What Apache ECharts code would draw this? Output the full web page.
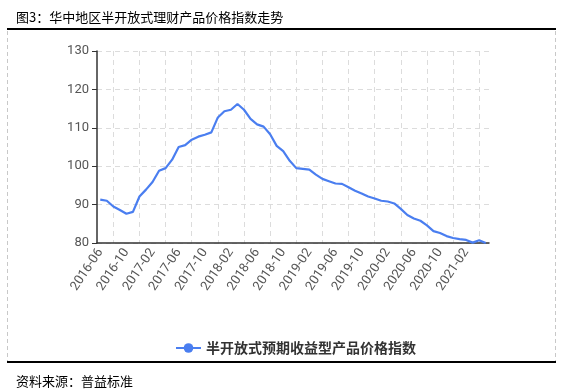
<!DOCTYPE html>
<html>
<head>
<meta charset="utf-8">
<script src="https://cdn.jsdelivr.net/npm/echarts@6/dist/echarts.min.js"></script>
<style>
html,body{margin:0;padding:0;background:#fff;}
#chart{width:564px;height:391px;}
</style>
</head>
<body>
<div id="chart"></div>
<script>
var titleText = '图3：华中地区半开放式理财产品价格指数走势';
var sourceText = '资料来源：普益标准';
var seriesName = '半开放式预期收益型产品价格指数';

var months = [
  '2016-06','2016-07','2016-08','2016-09','2016-10','2016-11','2016-12',
  '2017-01','2017-02','2017-03','2017-04','2017-05','2017-06','2017-07','2017-08','2017-09','2017-10','2017-11','2017-12',
  '2018-01','2018-02','2018-03','2018-04','2018-05','2018-06','2018-07','2018-08','2018-09','2018-10','2018-11','2018-12',
  '2019-01','2019-02','2019-03','2019-04','2019-05','2019-06','2019-07','2019-08','2019-09','2019-10','2019-11','2019-12',
  '2020-01','2020-02','2020-03','2020-04','2020-05','2020-06','2020-07','2020-08','2020-09','2020-10','2020-11','2020-12',
  '2021-01','2021-02','2021-03','2021-04','2021-05'
];

var indexValues = [
  91.3, 91.0, 89.5, 88.6, 87.6, 88.1, 92.1,
  93.9, 95.9, 98.8, 99.5, 101.7, 105.0, 105.5, 106.9, 107.7, 108.2, 108.8, 112.7,
  114.3, 114.7, 116.2, 114.7, 112.3, 110.9, 110.3, 108.3, 105.3, 103.9, 101.4, 99.5,
  99.3, 99.1, 97.8, 96.7, 96.1, 95.5, 95.4, 94.5, 93.6, 92.9, 92.1, 91.6,
  91.0, 90.8, 90.3, 88.9, 87.3, 86.4, 85.8, 84.6, 83.1, 82.6, 81.8, 81.3,
  81.0, 80.8, 80.1, 80.7, 80.0
];

var yMin = 80, yMax = 130, yStep = 10;

// helper axis used only for the vertical dashed grid lines (half-month resolution)
var halfSteps = [];
for (var k = 0; k <= months.length * 2; k++) { halfSteps.push(k); }

var chart = echarts.init(document.getElementById('chart'), null, {renderer: 'canvas'});
var cjk = '"Noto Sans CJK SC", "Microsoft YaHei", sans-serif';

chart.setOption({
  animation: false,
  backgroundColor: '#fff',
  title: [
    {text: titleText, left: 11, top: 6, textStyle: {fontFamily: cjk, fontSize: 13, fontWeight: 'normal', color: '#000'}},
    {text: sourceText, left: 11, top: 370, textStyle: {fontFamily: cjk, fontSize: 13, fontWeight: 'normal', color: '#000'}}
  ],
  graphic: [
    {type: 'line', shape: {x1: 7, y1: 29, x2: 556, y2: 29}, style: {stroke: '#000', lineWidth: 2}},
    {type: 'line', shape: {x1: 7, y1: 362, x2: 556, y2: 362}, style: {stroke: '#000', lineWidth: 2}},
    {type: 'line', shape: {x1: 7.5, y1: 31, x2: 7.5, y2: 361}, style: {stroke: '#c8c8c8', lineWidth: 1, lineDash: [4, 3]}},
    {type: 'line', shape: {x1: 555.5, y1: 31, x2: 555.5, y2: 361}, style: {stroke: '#c8c8c8', lineWidth: 1, lineDash: [4, 3]}}
  ],
  legend: {
    data: [seriesName],
    left: 170, top: 336,
    itemWidth: 25, itemHeight: 12,
    textStyle: {fontFamily: cjk, fontSize: 14, fontWeight: 'bold', color: '#333'}
  },
  grid: {left: 97, right: 75, top: 51, bottom: 148, containLabel: false},
  xAxis: [
    {
      type: 'category',
      data: months,
      boundaryGap: true,
      axisLine: {lineStyle: {color: '#333', width: 1.5}},
      axisTick: {alignWithLabel: true, interval: 3, length: 5, lineStyle: {color: '#333'}},
      axisLabel: {interval: 3, rotate: 56, margin: 7, fontSize: 13, color: '#555', fontFamily: 'Roboto, "Noto Sans", sans-serif'},
      splitLine: {show: false}
    },
    {
      type: 'category',
      data: halfSteps,
      boundaryGap: false,
      position: 'bottom',
      axisLine: {show: false},
      axisTick: {show: false},
      axisLabel: {show: false},
      splitLine: {
        show: true,
        interval: function (idx) { return idx % 8 === 5; },
        lineStyle: {color: '#dcdcdc', type: [5, 4], width: 1}
      }
    }
  ],
  yAxis: {
    type: 'value',
    min: yMin, max: yMax, interval: yStep,
    axisLine: {show: true, lineStyle: {color: '#333', width: 1.5}},
    axisTick: {show: true, length: 5, lineStyle: {color: '#333'}},
    axisLabel: {fontSize: 13, color: '#555', margin: 8, fontFamily: 'Roboto, "Noto Sans", sans-serif'},
    splitLine: {show: true, lineStyle: {color: '#dcdcdc', type: [5, 4], width: 1}}
  },
  series: [{
    name: seriesName,
    type: 'line',
    data: indexValues,
    xAxisIndex: 0,
    symbol: 'circle',
    symbolSize: 10,
    showSymbol: false,
    lineStyle: {color: '#4a7ef0', width: 2.2},
    itemStyle: {color: '#4a7ef0'}
  }]
});
</script>
</body>
</html>
